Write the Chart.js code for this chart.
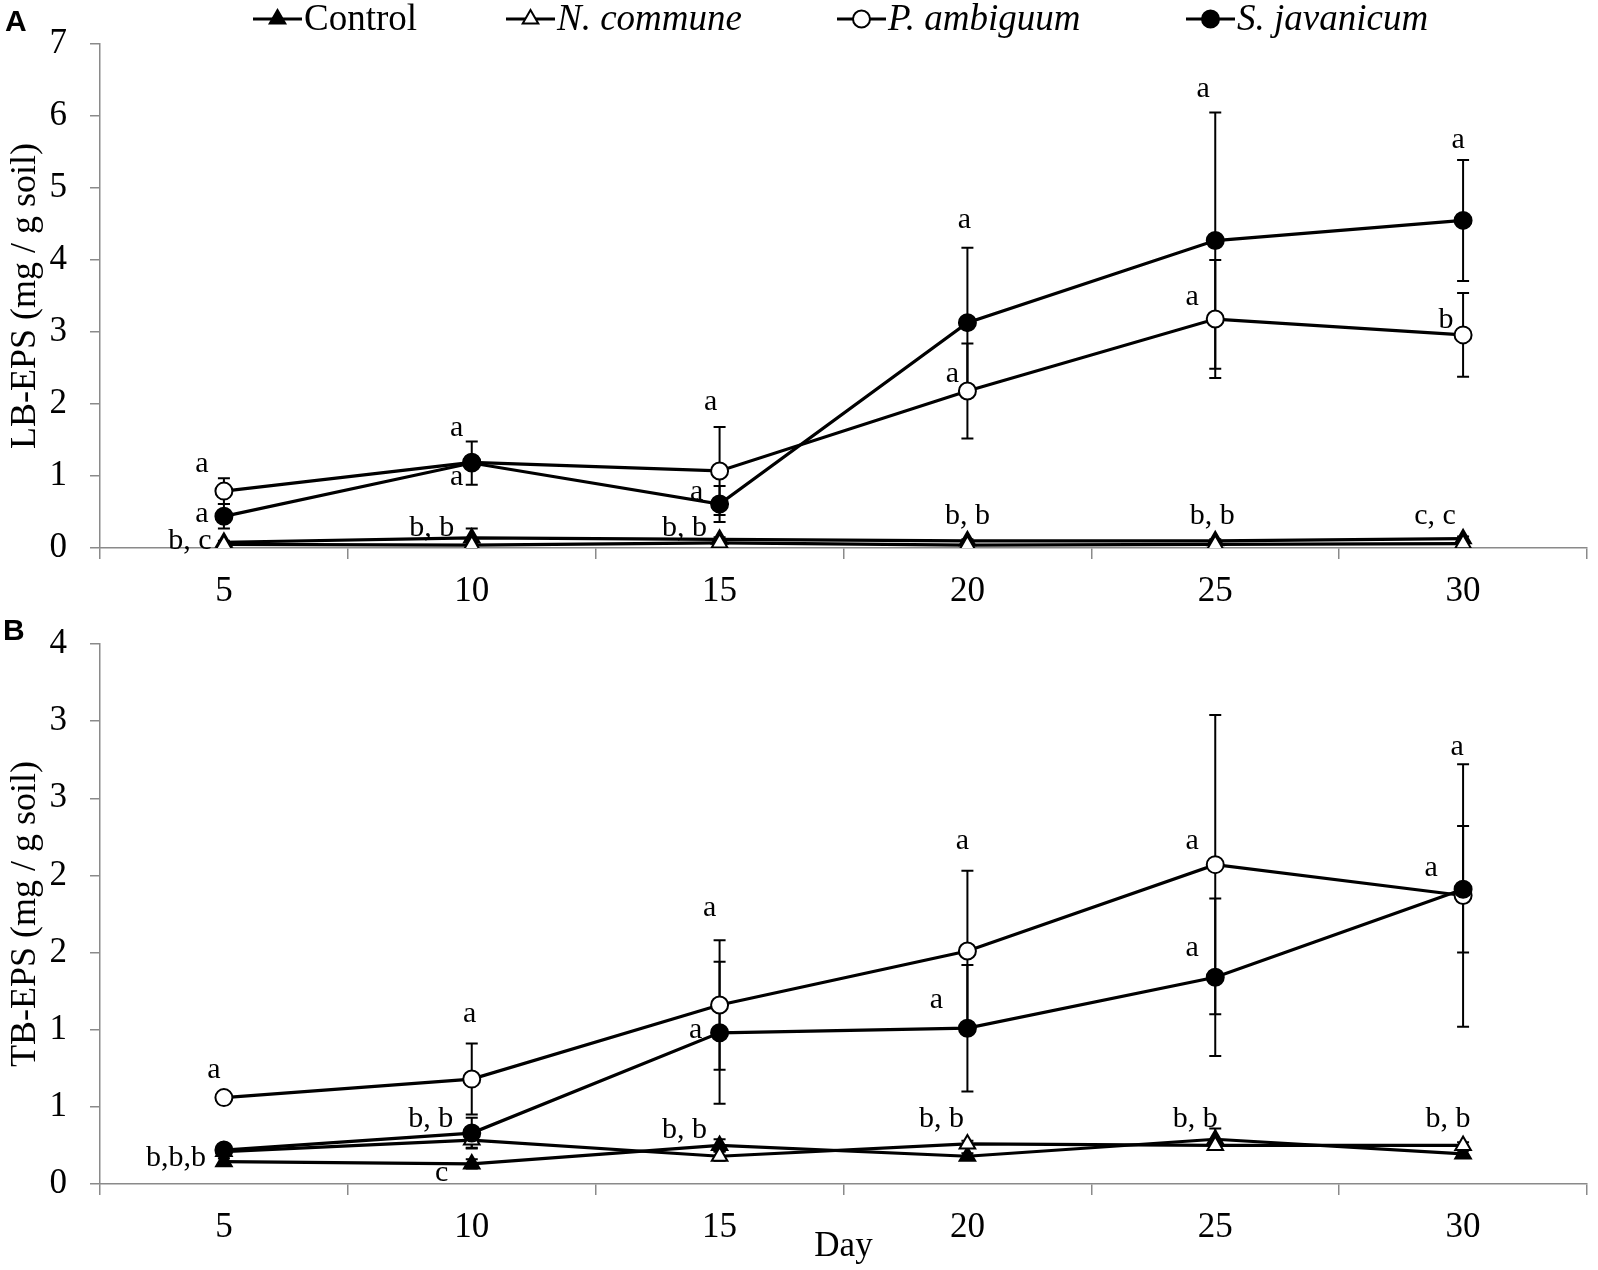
<!DOCTYPE html>
<html><head><meta charset="utf-8">
<script src="https://cdn.jsdelivr.net/npm/chart.js@4.4.1/dist/chart.umd.min.js"></script>
<style>
html,body{margin:0;padding:0;background:#fff;}
#wrap{position:relative;width:1598px;height:1270px;overflow:hidden;background:#fff;}
#cA{position:absolute;left:0;top:0;width:1598px;height:620px;}
#cB{position:absolute;left:0;top:600px;width:1598px;height:670px;}
.pl{position:absolute;font:bold 30px 'Liberation Sans',Arial,sans-serif;color:#000;line-height:1;}
</style></head><body>
<div id="wrap">
<canvas id="cA" width="1598" height="620"></canvas>
<canvas id="cB" width="1598" height="670"></canvas>
<div class="pl" style="left:5px;top:6px">A</div>
<div class="pl" style="left:3px;top:615px">B</div>
</div>
<script>
// ---------- data ----------
const days = ['5', '10', '15', '20', '25', '30'];
const seriesNames = ['Control', 'N. commune', 'P. ambiguum', 'S. javanicum'];
const yTicksA = ['0', '1', '2', '3', '4', '5', '6', '7'];
const yTicksB = ['0', '1', '1', '2', '2', '3', '3', '4'];

// Panel A: LB-EPS (mg / g soil)
const lbControl   = [0.08, 0.14, 0.12, 0.10, 0.10, 0.13];
const lbNcommune  = [0.05, 0.04, 0.07, 0.04, 0.05, 0.06];
const lbPambiguum = [0.79, 1.19, 1.07, 2.18, 3.18, 2.96];
const lbSjavanicum= [0.44, 1.18, 0.61, 3.13, 4.27, 4.55];
const lbControlErr   = [0.02, 0.13, 0.03, 0.02, 0.02, 0.03];
const lbNcommuneErr  = [0.02, 0.02, 0.02, 0.02, 0.02, 0.02];
const lbPambiguumErr = [0.18, 0.05, 0.61, 0.66, 0.82, 0.58];
const lbSjavanicumErr= [0.17, 0.30, 0.25, 1.04, 1.78, 0.84];

// Panel B: TB-EPS (mg / g soil)
const tbControl   = [0.145, 0.13, 0.25, 0.18, 0.29, 0.195];
const tbNcommune  = [0.21, 0.285, 0.18, 0.26, 0.25, 0.25];
const tbPambiguum = [0.56, 0.68, 1.16, 1.51, 2.07, 1.87];
const tbSjavanicum= [0.22, 0.33, 0.98, 1.01, 1.34, 1.91];
const tbControlErr   = [0.02, 0.03, 0.04, 0.02, 0.07, 0.02];
const tbNcommuneErr  = [0.02, 0.05, 0.03, 0.02, 0.03, 0.02];
const tbPambiguumErr = [0.02, 0.23, 0.42, 0.52, 0.97, 0.85];
const tbSjavanicumErr= [0.02, 0.10, 0.46, 0.41, 0.51, 0.41];

// significance letters: [day index, value position, text, horizontal shift px]
const lettersA = [
  [0, 1.16, 'a', -22], [0, 0.47, 'a', -22], [0, 0.10, 'b, c', -34],
  [1, 1.67, 'a', -15], [1, 0.98, 'a', -15], [1, 0.27, 'b, b', -40],
  [2, 2.03, 'a', -9],  [2, 0.78, 'a', -23], [2, 0.27, 'b, b', -35],
  [3, 4.56, 'a', -3],  [3, 2.41, 'a', -15], [3, 0.44, 'b, b', 0],
  [4, 6.37, 'a', -12], [4, 3.48, 'a', -23], [4, 0.44, 'b, b', -3],
  [5, 5.66, 'a', -5],  [5, 3.17, 'b', -17], [5, 0.44, 'c, c', -28]
];
const lettersB = [
  [0, 0.74, 'a', -10], [0, 0.17, 'b,b,b', -48],
  [1, 1.10, 'a', -2],  [1, 0.42, 'b, b', -41], [1, 0.07, 'c', -30],
  [2, 1.79, 'a', -10], [2, 1.00, 'a', -24], [2, 0.35, 'b, b', -35],
  [3, 2.22, 'a', -5],  [3, 1.19, 'a', -31], [3, 0.42, 'b, b', -26],
  [4, 2.22, 'a', -23], [4, 1.53, 'a', -23], [4, 0.42, 'b, b', -20],
  [5, 2.83, 'a', -6],  [5, 2.05, 'a', -32], [5, 0.42, 'b, b', -15]
];

// ---------- styles ----------
const SERIF = "'Liberation Serif','Times New Roman',serif";
const AXIS = '#8a8a8a';
const markerStyles = [
  {pointStyle: 'triangle', fill: '#000', r: 9},
  {pointStyle: 'triangle', fill: '#fff', r: 9},
  {pointStyle: 'circle', fill: '#fff', r: 8.5},
  {pointStyle: 'circle', fill: '#000', r: 8.5}
];
const drawOrder = [4, 3, 2, 1];
const legendX = [253, 506, 837, 1186];

function makeDatasets(vals, errs) {
  return vals.map((v, i) => ({
    label: seriesNames[i],
    data: v,
    errors: errs[i],
    order: drawOrder[i],
    borderColor: '#000',
    borderWidth: 3.2,
    pointStyle: markerStyles[i].pointStyle,
    pointRadius: markerStyles[i].r,
    pointHoverRadius: markerStyles[i].r,
    pointBackgroundColor: markerStyles[i].fill,
    pointBorderColor: '#000',
    pointBorderWidth: 2,
    tension: 0,
    fill: false
  }));
}

function drawMarker(ctx, style, x, y, r, fill) {
  ctx.beginPath();
  if (style === 'circle') {
    ctx.arc(x, y, r, 0, Math.PI * 2);
  } else {
    let a = 0;
    ctx.moveTo(x + Math.sin(a) * r, y - Math.cos(a) * r);
    a += 2 * Math.PI / 3;
    ctx.lineTo(x + Math.sin(a) * r, y - Math.cos(a) * r);
    a += 2 * Math.PI / 3;
    ctx.lineTo(x + Math.sin(a) * r, y - Math.cos(a) * r);
  }
  ctx.closePath();
  ctx.fillStyle = fill; ctx.fill();
  ctx.lineWidth = 2; ctx.strokeStyle = '#000'; ctx.stroke();
}

const errorBarPlugin = {
  id: 'errorBars',
  beforeDatasetsDraw(chart) {
    const ctx = chart.ctx, xs = chart.scales.x, ys = chart.scales.y;
    ctx.save();
    ctx.strokeStyle = '#000';
    ctx.lineWidth = 2;
    chart.data.datasets.forEach(ds => {
      (ds.errors || []).forEach((e, j) => {
        if (!e) return;
        const v = ds.data[j];
        const px = xs.getPixelForValue(j);
        const t = ys.getPixelForValue(v + e);
        const b = ys.getPixelForValue(v - e);
        ctx.beginPath();
        ctx.moveTo(px, t); ctx.lineTo(px, b);
        ctx.moveTo(px - 6, t); ctx.lineTo(px + 6, t);
        ctx.moveTo(px - 6, b); ctx.lineTo(px + 6, b);
        ctx.stroke();
      });
    });
    ctx.restore();
  }
};

function lettersPlugin(list) {
  return {
    id: 'letters',
    afterDatasetsDraw(chart) {
      const ctx = chart.ctx, xs = chart.scales.x, ys = chart.scales.y;
      ctx.save();
      ctx.fillStyle = '#000';
      ctx.font = '30px ' + SERIF;
      ctx.textAlign = 'center';
      ctx.textBaseline = 'middle';
      list.forEach(([i, v, txt, dx]) => {
        ctx.fillText(txt, xs.getPixelForValue(i) + dx, ys.getPixelForValue(v));
      });
      ctx.restore();
    }
  };
}

const legendPlugin = {
  id: 'topLegend',
  afterDraw(chart) {
    const ctx = chart.ctx;
    const y = 19;
    ctx.save();
    chart.data.datasets.forEach((ds, i) => {
      const x0 = legendX[i];
      ctx.beginPath();
      ctx.moveTo(x0, y); ctx.lineTo(x0 + 49, y);
      ctx.lineWidth = 3.2; ctx.strokeStyle = '#000'; ctx.stroke();
      drawMarker(ctx, markerStyles[i].pointStyle, x0 + 24.5, y, markerStyles[i].r, markerStyles[i].fill);
      ctx.fillStyle = '#000';
      ctx.font = (i === 0 ? '' : 'italic ') + '37px ' + SERIF;
      ctx.textAlign = 'left';
      ctx.textBaseline = 'middle';
      ctx.fillText(ds.label, x0 + 51, y + 1);
    });
    ctx.restore();
  }
};

function makeOptions(yMax, yStep, tickLabels, yTitle, xTitle, axisH, padTop) {
  return {
    responsive: false,
    animation: false,
    devicePixelRatio: 1,
    layout: {padding: {top: padTop, right: 6, bottom: 0, left: 0}},
    plugins: {legend: {display: false}, tooltip: {enabled: false}},
    scales: {
      x: {
        type: 'category',
        offset: true,
        grid: {offset: true, drawOnChartArea: false, drawTicks: true, tickLength: 11, color: AXIS, lineWidth: 1.5},
        border: {color: AXIS, width: 1.5},
        ticks: {color: '#000', font: {family: SERIF, size: 35}, padding: 12, maxRotation: 0, autoSkip: false},
        title: {display: !!xTitle, text: xTitle || '', color: '#000', font: {family: SERIF, size: 35}, padding: {top: 0, bottom: 2}},
        afterFit(s) { s.height = axisH; }
      },
      y: {
        min: 0, max: yMax,
        grid: {drawOnChartArea: false, drawTicks: true, tickLength: 10, color: AXIS, lineWidth: 1.5},
        border: {color: AXIS, width: 1.5},
        ticks: {
          stepSize: yStep, color: '#000', font: {family: SERIF, size: 35}, padding: 23,
          callback: (v, idx) => tickLabels[idx]
        },
        title: {display: true, text: yTitle, color: '#000', font: {family: SERIF, size: 36}, padding: {top: 4, bottom: 0}},
        afterFit(s) { s.width = 100; }
      }
    }
  };
}

new Chart(document.getElementById('cA'), {
  type: 'line',
  data: {
    labels: days,
    datasets: makeDatasets(
      [lbControl, lbNcommune, lbPambiguum, lbSjavanicum],
      [lbControlErr, lbNcommuneErr, lbPambiguumErr, lbSjavanicumErr])
  },
  options: makeOptions(7, 1, yTicksA, 'LB-EPS (mg / g soil)', '', 72, 24),
  plugins: [errorBarPlugin, lettersPlugin(lettersA), legendPlugin]
});

new Chart(document.getElementById('cB'), {
  type: 'line',
  data: {
    labels: days,
    datasets: makeDatasets(
      [tbControl, tbNcommune, tbPambiguum, tbSjavanicum],
      [tbControlErr, tbNcommuneErr, tbPambiguumErr, tbSjavanicumErr])
  },
  options: makeOptions(3.5, 0.5, yTicksB, 'TB-EPS (mg / g soil)', 'Day', 86, 38),
  plugins: [errorBarPlugin, lettersPlugin(lettersB)]
});
</script>
</body></html>
